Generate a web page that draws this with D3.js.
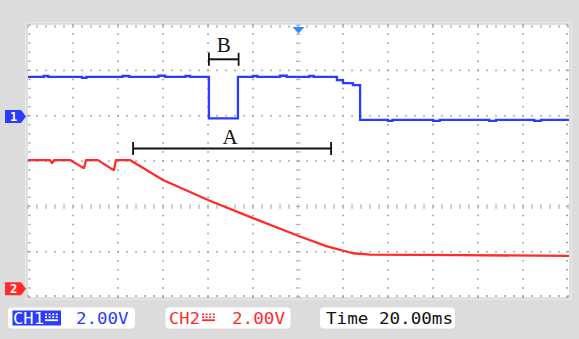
<!DOCTYPE html>
<html><head><meta charset="utf-8">
<script src="https://cdn.jsdelivr.net/npm/d3@7"></script>
<style>html,body{margin:0;padding:0;background:#dcdcdc;overflow:hidden}svg{display:block}</style>
</head><body><svg id="c" width="579" height="339"></svg>
<script>
// ---------- data ----------
// CH1 (blue) step trace: time in ms, voltage in V (relative to CH1 ground)
const ch1Time = [-120,-113,-111,-96,-94,-78,-75,-62,-59,-50,-48,-39.6,-26.7,-20,-18,-8,-5,5,7,17.3,20,24.4,27.6,40,42,60,63,85,88,105,108,121];
const ch1Volt = [1.71,1.75,1.71,1.67,1.71,1.75,1.71,1.76,1.71,1.75,1.71,-0.12,1.71,1.75,1.71,1.76,1.71,1.75,1.71,1.57,1.44,1.35,-0.19,-0.23,-0.19,-0.23,-0.19,-0.23,-0.19,-0.23,-0.19,-0.19];
// CH2 (red) trace
const ch2Time = [-120,-110.2,-109.3,-108.4,-101.3,-96,-95.1,-94.2,-88.9,-82.7,-81.8,-80.9,-74.7,-60,-40,-20,0.9,12.9,24.4,32,72,121];
const ch2Volt = [5.64,5.64,5.51,5.64,5.64,5.33,5.29,5.64,5.64,5.24,5.20,5.64,5.64,4.76,3.88,3.08,2.27,1.83,1.53,1.47,1.45,1.41];
// grid divisions
const timeDivs = d3.range(-120, 121, 20);   // ms
const voltDivs = [-2,-1,0,1,2,3,4];         // divisions from screen centre
// cursor annotations
const cursorNames = ["A","B"];
const cursorStart = [-73.3,-39.6];
const cursorEnd = [14.7,-26.4];
// status bar texts
const chNames = ["CH1","CH2"];
const chScales = ["2.00V","2.00V"];
const timeLabel = "Time 20.00ms";

// ---------- layout ----------
const L=28,R=568,T=25,B=297;
const BLUE="#2b3bff", RED="#ff2b2b";
const svg=d3.select("#c");
const x=d3.scaleLinear().domain([-120,120]).range([L,R]);
const gy=d3.scaleLinear().domain([-2,4]).range([B,T]);
const vPerDiv=2, ch1Off=2, ch2Off=-1.8;
const y1=v=>gy(ch1Off+v/vPerDiv), y2=v=>gy(ch2Off+v/vPerDiv);

svg.append("rect").attr("width",579).attr("height",339).attr("fill","#dcdcdc");
svg.append("rect").attr("x",25.5).attr("y",22.5).attr("width",546).attr("height",277).attr("fill","#f4f4f4");
svg.append("rect").attr("x",27).attr("y",24).attr("width",543).attr("height",274).attr("fill","#fff").attr("stroke","#c4c4c4").attr("stroke-width",1);

const g=svg.append("g");
const DOT="#9c9c9c";
const minorX=d3.range(-120,120.01,4), minorY=d3.range(-2,4.001,0.2);
// vertical grid lines (dotted)
timeDivs.forEach(t=>{
  if(t===0){
    minorY.forEach(d=>g.append("rect").attr("x",x(t)-2).attr("y",gy(d)-0.6).attr("width",4.5).attr("height",1.3).attr("fill","#b4b4b4"));
  } else if(t===-120||t===120){
    minorY.forEach(d=>g.append("rect").attr("x",t<0?x(t)+0.5:x(t)-2).attr("y",gy(d)-0.7).attr("width",2).attr("height",1.4).attr("fill",DOT));
  } else {
    minorY.forEach(d=>g.append("rect").attr("x",x(t)-0.75).attr("y",gy(d)-0.75).attr("width",1.6).attr("height",1.6).attr("fill",DOT));
  }
});
voltDivs.forEach(d=>{
  if(d===0){
    minorX.forEach(t=>g.append("rect").attr("x",x(t)-0.6).attr("y",gy(d)-2).attr("width",1.3).attr("height",4.5).attr("fill","#b4b4b4"));
  } else if(d===4||d===-2){
    minorX.forEach(t=>g.append("rect").attr("x",x(t)-0.7).attr("y",d>0?gy(d)+0.5:gy(d)-2).attr("width",1.4).attr("height",2).attr("fill",DOT));
  } else {
    minorX.forEach(t=>g.append("rect").attr("x",x(t)-0.75).attr("y",gy(d)-0.75).attr("width",1.6).attr("height",1.6).attr("fill",DOT));
  }
});

// traces
const clip=svg.append("clipPath").attr("id","pc").append("rect").attr("x",L).attr("y",T).attr("width",R-L+1).attr("height",B-T);
const tr=svg.append("g").attr("clip-path","url(#pc)");
const d1=ch1Time.map((t,i)=>[t,ch1Volt[i]]);
const d2=ch2Time.map((t,i)=>[t,ch2Volt[i]]);
tr.append("path").attr("d",d3.line().x(d=>x(d[0])).y(d=>y2(d[1]))(d2)).attr("fill","none").attr("stroke",RED).attr("stroke-width",2.3).attr("stroke-linejoin","round");
tr.append("path").attr("d",d3.line().curve(d3.curveStepAfter).x(d=>x(d[0])).y(d=>y1(d[1]))(d1)).attr("fill","none").attr("stroke",BLUE).attr("stroke-width",2.3);

// trigger marker
const tx=x(0)+0.5;
svg.append("path").attr("d",`M${tx-6},27 L${tx+6},27 L${tx},33.5 Z`).attr("fill","#2a8cff");

// channel markers
function chMarker(yc,col,lab){
  svg.append("path").attr("d",`M5,${yc-6.5} L21,${yc-6.5} L26,${yc} L21,${yc+6.5} L5,${yc+6.5} Z`).attr("fill",col);
  svg.append("text").attr("x",13.5).attr("y",yc+4.5).attr("text-anchor","middle").attr("fill","#fff")
    .attr("font-family","DejaVu Sans Mono").attr("font-weight","bold").attr("font-size",12).text(lab);
}
chMarker(y1(0)+0.8,BLUE,"1");
chMarker(y2(0)+0.8,RED,"2");

// cursors A / B
const cursorY=[148.5,59.3], labelY=[144,52];
cursorNames.forEach((n,i)=>{
  const a=x(cursorStart[i]), b=x(cursorEnd[i]), yy=cursorY[i];
  svg.append("line").attr("x1",a).attr("x2",b).attr("y1",yy).attr("y2",yy).attr("stroke","#111").attr("stroke-width",2);
  [a,b].forEach(p=>svg.append("line").attr("x1",p).attr("x2",p).attr("y1",yy-6.5).attr("y2",yy+6.5).attr("stroke","#111").attr("stroke-width",1.8));
  svg.append("text").attr("x",(a+b)/2-(i===0?2:0)).attr("y",labelY[i]).attr("text-anchor","middle")
    .attr("font-family","Liberation Serif").attr("font-size",21).attr("fill","#111").text(n);
});

// status bar
const FONT="DejaVu Sans Mono";
function box(x0,w){svg.append("rect").attr("x",x0).attr("y",307.5).attr("width",w).attr("height",21).attr("rx",4).attr("fill","#fff");}
function txt(x0,s,col,len){svg.append("text").attr("x",x0).attr("y",323.5).attr("fill",col).attr("font-family",FONT).attr("font-size",16)
  .attr("textLength",len).attr("lengthAdjust","spacingAndGlyphs").text(s);}
function coupling(x0,col){
  for(let k=0;k<4;k++) svg.append("rect").attr("x",x0+k*3.6).attr("y",313.5).attr("width",2).attr("height",1.6).attr("fill",col);
  for(let k=0;k<4;k++) svg.append("rect").attr("x",x0+k*3.6).attr("y",316.3).attr("width",2).attr("height",1.6).attr("fill",col);
  svg.append("rect").attr("x",x0).attr("y",319.3).attr("width",13).attr("height",1.8).attr("fill",col);
}
box(8,127);
svg.append("rect").attr("x",12.5).attr("y",310.5).attr("width",48.5).attr("height",15).attr("fill",BLUE);
txt(13,chNames[0],"#fff",31);
coupling(45,"#fff");
txt(76,chScales[0],BLUE,52.5);
box(165.5,125);
txt(169,chNames[1],RED,31);
coupling(202,RED);
txt(232,chScales[1],RED,53);
box(320,135);
txt(326,timeLabel,"#111",127);
</script></body></html>
